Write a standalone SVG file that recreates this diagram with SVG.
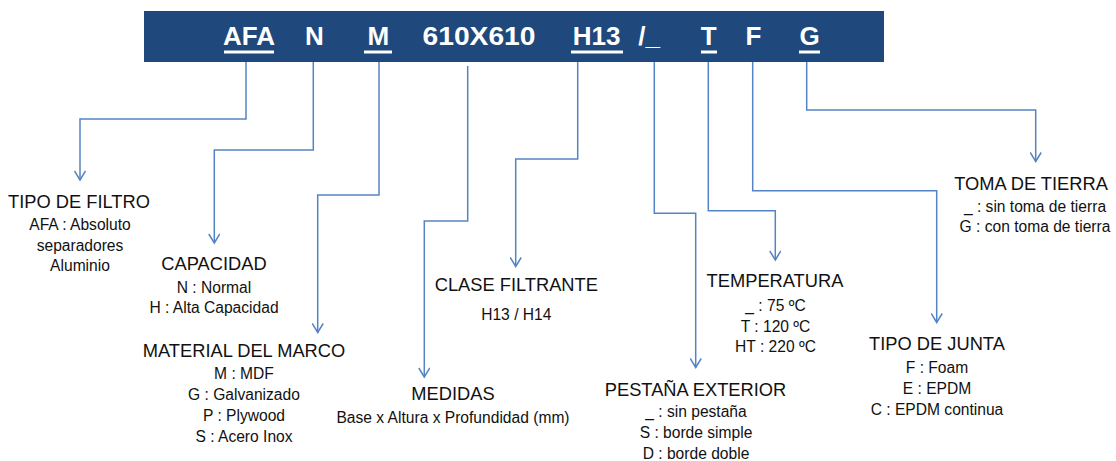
<svg xmlns="http://www.w3.org/2000/svg" width="1116" height="461" viewBox="0 0 1116 461">
<style>
.code{font-family:"Liberation Sans",Arial,sans-serif;font-weight:bold;font-size:26px;fill:#ffffff;text-anchor:middle}
.ul{fill:#ffffff}
.title{font-family:"Liberation Sans",Arial,sans-serif;font-size:18.3px;fill:#111111;text-anchor:middle}
.sub{font-family:"Liberation Sans",Arial,sans-serif;font-size:15.6px;fill:#111111;text-anchor:middle}
.conn{fill:none;stroke:#5584c4;stroke-width:1.5;marker-end:url(#arr)}
</style>
<defs>
<marker id="arr" viewBox="0 0 12 12" refX="10" refY="6" markerWidth="12" markerHeight="12" markerUnits="userSpaceOnUse" orient="auto">
<path d="M1,0.5 L10,6 L1,11.5" fill="none" stroke="#5584c4" stroke-width="1.5"/>
</marker>
</defs>
<rect width="1116" height="461" fill="#ffffff"/>
<g id="banner">
<rect x="144" y="11" width="740" height="51" fill="#1f497d"/>
<text class="code" x="249" y="45">AFA</text>
<rect class="ul" x="224" y="50.5" width="50" height="3"/>
<text class="code" x="314.3" y="45">N</text>
<text class="code" x="378.3" y="45">M</text>
<rect class="ul" x="364" y="50.5" width="28" height="3"/>
<text class="code" x="479" y="45" textLength="113" lengthAdjust="spacingAndGlyphs">610X610</text>
<text class="code" x="596.7" y="45">H13</text>
<rect class="ul" x="571" y="50.5" width="52" height="3"/>
<text class="code" x="649" y="45">/_</text>
<text class="code" x="708.8" y="45">T</text>
<rect class="ul" x="701" y="50.5" width="16" height="3"/>
<text class="code" x="753.5" y="45">F</text>
<text class="code" x="809.5" y="45">G</text>
<rect class="ul" x="799" y="50.5" width="21" height="3"/>
</g>
<g id="connectors">
<path class="conn" d="M246,62 V119 H80 V180"/>
<path class="conn" d="M313.3,62 V150 H214.3 V243"/>
<path class="conn" d="M379,62 V195 H317.7 V332.5"/>
<path class="conn" d="M467.7,66 V221 H424.3 V377"/>
<path class="conn" d="M577.7,62 V159 H515.7 V266.5"/>
<path class="conn" d="M654.3,62 V213.3 H695.7 V367.5"/>
<path class="conn" d="M708.3,62 V210.7 H775.3 V260"/>
<path class="conn" d="M752.7,62 V190.7 H936.7 V322.5"/>
<path class="conn" d="M806.7,62 V110 H1035.7 V161.5"/>
</g>
<g id="tipo-filtro">
<text class="title" x="79" y="208">TIPO DE FILTRO</text>
<text class="sub" x="80" y="230">AFA : Absoluto</text>
<text class="sub" x="80" y="250.5">separadores</text>
<text class="sub" x="80" y="271">Aluminio</text>
</g>
<g id="capacidad">
<text class="title" x="214" y="270">CAPACIDAD</text>
<text class="sub" x="214" y="293">N : Normal</text>
<text class="sub" x="214" y="313.3">H : Alta Capacidad</text>
</g>
<g id="material-marco">
<text class="title" x="244" y="356.7">MATERIAL DEL MARCO</text>
<text class="sub" x="244" y="379.3">M : MDF</text>
<text class="sub" x="244" y="400">G : Galvanizado</text>
<text class="sub" x="244" y="421">P : Plywood</text>
<text class="sub" x="244" y="442.3">S : Acero Inox</text>
</g>
<g id="medidas">
<text class="title" x="453" y="400">MEDIDAS</text>
<text class="sub" x="453" y="422.7">Base x Altura x Profundidad (mm)</text>
</g>
<g id="clase-filtrante">
<text class="title" x="516.3" y="290.7">CLASE FILTRANTE</text>
<text class="sub" x="516.3" y="320">H13 / H14</text>
</g>
<g id="pestana-exterior">
<text class="title" x="695.5" y="395.7">PESTAÑA EXTERIOR</text>
<text class="sub" x="696" y="417.3">_ : sin pestaña</text>
<text class="sub" x="696" y="438.3">S : borde simple</text>
<text class="sub" x="696" y="459">D : borde doble</text>
</g>
<g id="temperatura">
<text class="title" x="775" y="287.3">TEMPERATURA</text>
<text class="sub" x="775.5" y="311">_ : 75 ºC</text>
<text class="sub" x="775.5" y="331.7">T : 120 ºC</text>
<text class="sub" x="775.5" y="352.3">HT : 220 ºC</text>
</g>
<g id="tipo-junta">
<text class="title" x="937" y="350">TIPO DE JUNTA</text>
<text class="sub" x="937" y="373.3">F : Foam</text>
<text class="sub" x="937" y="394">E : EPDM</text>
<text class="sub" x="937" y="415">C : EPDM continua</text>
</g>
<g id="toma-tierra">
<text class="title" x="1031" y="190">TOMA DE TIERRA</text>
<text class="sub" x="1035" y="211.7">_ : sin toma de tierra</text>
<text class="sub" x="1035" y="232.3">G : con toma de tierra</text>
</g>
</svg>
